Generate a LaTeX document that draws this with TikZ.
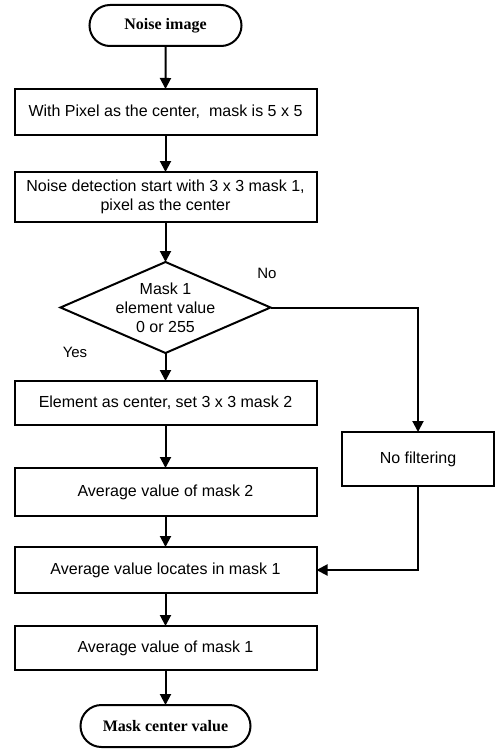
\documentclass[tikz,border=0pt]{standalone}
\usepackage{fontspec}
\setmainfont{Liberation Sans}
\newfontfamily\termfont{Liberation Serif}
\usetikzlibrary{positioning, shapes.geometric, shapes.misc, arrows.meta}

\begin{document}
\begin{tikzpicture}[
		x=1pt, y=1pt,
		proc/.style={draw, rectangle, align=center, line width=2pt, outer sep=0pt, minimum width=302pt, minimum height=46pt, inner sep=2pt, font=\fontsize{16}{19}\selectfont},
		term/.style={draw, rounded rectangle, line width=2pt, outer sep=0pt, minimum height=41pt, inner sep=2pt, font=\termfont\bfseries\fontsize{16}{19}\selectfont},
		cond/.style={draw, diamond, aspect=2.3, align=center, line width=2pt, outer sep=0pt, minimum width=210pt, minimum height=91pt, inner sep=-5pt, font=\fontsize{16}{19}\selectfont},
		note/.style={font=\fontsize{15}{18}\selectfont},
		flow/.style={->, line width=2pt, >={Triangle[length=11pt, width=11pt]}},
	]
	\useasboundingbox (0,0) rectangle (495,-749);

	% start
	\node[term, minimum width=156pt] (start) at (165.5,-25.5) {Noise image};

	% main column
	\node[proc, below=43pt of start] (mask5) {With Pixel as the center,\ \ mask is 5 x 5};
	\node[proc, below=37pt of mask5, minimum height=50pt] (detect) {Noise detection start with 3 x 3 mask 1,\\pixel as the center};
	\node[cond, below=40pt of detect] (check) {Mask 1\\element value\\0 or 255};
	\node[proc, below=28pt of check, minimum height=44pt] (mask2) {Element as center, set 3 x 3 mask 2};
	\node[proc, below=43pt of mask2, minimum height=48pt] (avg2) {Average value of mask 2};
	\node[proc, below=31pt of avg2] (locate) {Average value locates in mask 1};
	\node[proc, below=33pt of locate, minimum height=44pt] (avg1) {Average value of mask 1};

	% end
	\node[term, below=35pt of avg1, minimum width=174pt, minimum height=42pt] (result) {Mask center value};

	% side branch
	\node[proc, minimum width=152pt, minimum height=54pt] (nofilter) at (418,-459) {No filtering};

	\node[note] (yes) at (75,-352) {Yes};
	\node[note] (no) at (267,-273) {No};

	\draw[flow] (start) -- (mask5);
	\draw[flow] (mask5) -- (detect);
	\draw[flow] (detect) -- (check);
	\draw[flow] (check) -- (mask2);
	\draw[flow] (mask2) -- (avg2);
	\draw[flow] (avg2) -- (locate);
	\draw[flow] (locate) -- (avg1);
	\draw[flow] (avg1) -- (result);
	\draw[flow] (check.east) -| (nofilter.north);
	\draw[flow] (nofilter.south) |- (locate.east);
\end{tikzpicture}
\end{document}
